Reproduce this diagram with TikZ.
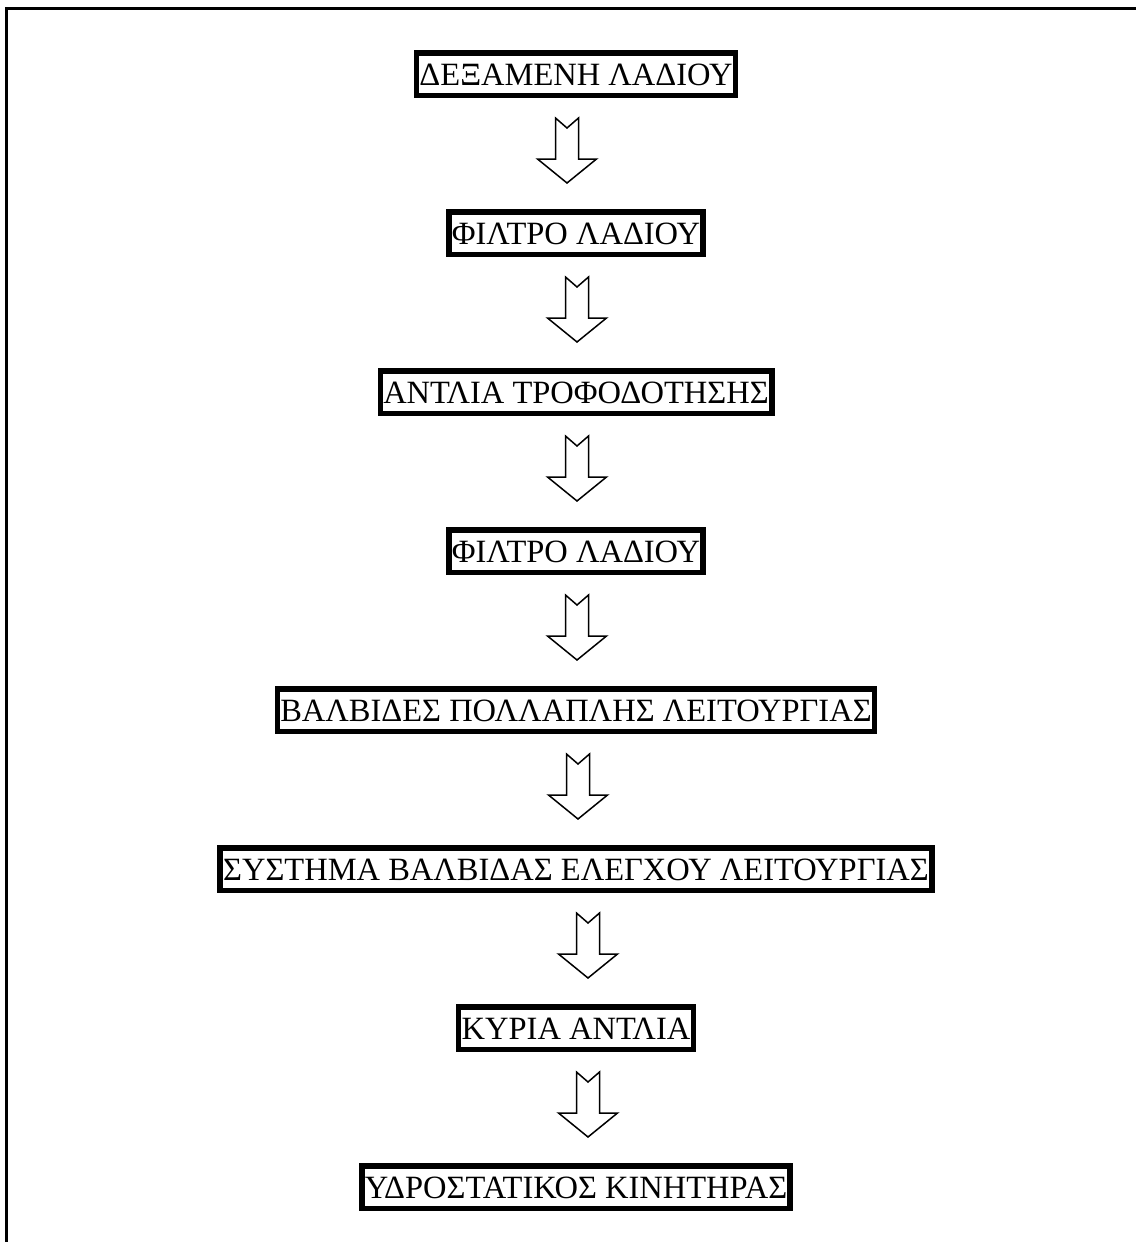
\documentclass[tikz,border=0pt]{standalone}
\usepackage{fontspec}
\setmainfont{Liberation Serif}
\usetikzlibrary{positioning,calc}

\tikzset{
  stagebox/.style={draw, line width=5.5pt, inner xsep=3pt, inner ysep=0pt,
    text height=22pt, text depth=0pt, minimum height=42.5pt,
    font=\fontsize{32.5}{38}\selectfont},
  flowarr/.style={draw, line width=1.5pt, fill=white, line join=miter},
}

% hollow down arrow with notched tail, centred between two boxes
\newcommand{\flowarrow}[3]{%
  \draw[flowarr] ($(#1.south)!0.5!(#2.north)$) ++(#3,-35.5) ++(-11.5,0)
    -- ++(0,41) -- ++(-18,0) -- ++(29.5,24) -- ++(29.5,-24) -- ++(-18,0)
    -- ++(0,-41) -- ++(-11.5,10) -- cycle;}

\begin{document}
\begin{tikzpicture}[x=1pt, y=-1pt, node distance=111pt]
  \useasboundingbox (0,0) rectangle (1136,1242);
  \draw[line width=3pt] (6,1242) -- (6,8.3) -- (1136,8.3);

  \node[stagebox] (tank) at (576,74) {ΔΕΞΑΜΕΝΗ ΛΑΔΙΟΥ};
  \node[stagebox, below=of tank] (filterA) {ΦΙΛΤΡΟ ΛΑΔΙΟΥ};
  \node[stagebox, below=of filterA] (feedpump) {ΑΝΤΛΙΑ ΤΡΟΦΟΔΟΤΗΣΗΣ};
  \node[stagebox, below=of feedpump] (filterB) {ΦΙΛΤΡΟ ΛΑΔΙΟΥ};
  \node[stagebox, below=of filterB] (multivalve) {ΒΑΛΒΙΔΕΣ ΠΟΛΛΑΠΛΗΣ ΛΕΙΤΟΥΡΓΙΑΣ};
  \node[stagebox, below=of multivalve] (ctrlvalve) {ΣΥΣΤΗΜΑ ΒΑΛΒΙΔΑΣ ΕΛΕΓΧΟΥ ΛΕΙΤΟΥΡΓΙΑΣ};
  \node[stagebox, below=of ctrlvalve] (mainpump) {ΚΥΡΙΑ ΑΝΤΛΙΑ};
  \node[stagebox, below=of mainpump] (motor) {ΥΔΡΟΣΤΑΤΙΚΟΣ ΚΙΝΗΤΗΡΑΣ};

  \flowarrow{tank}{filterA}{-9}
  \flowarrow{filterA}{feedpump}{1}
  \flowarrow{feedpump}{filterB}{1}
  \flowarrow{filterB}{multivalve}{1}
  \flowarrow{multivalve}{ctrlvalve}{2}
  \flowarrow{ctrlvalve}{mainpump}{12}
  \flowarrow{mainpump}{motor}{12}
\end{tikzpicture}
\end{document}
